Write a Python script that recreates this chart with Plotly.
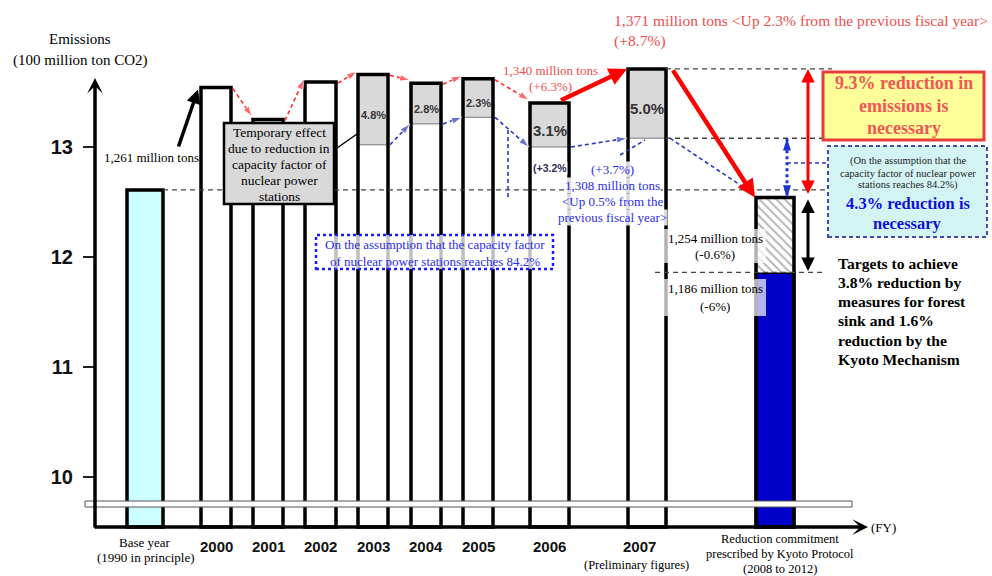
import plotly.graph_objects as go

# ---------------- data (100 million t-CO2) ----------------
categories = ["Base year", "2000", "2001", "2002", "2003", "2004", "2005", "2006", "2007", "Kyoto target"]
emissions = [12.61, 13.54, 13.25, 13.59, 13.66, 13.58, 13.62, 13.40, 13.71, 12.54]
nuclear_842 = [None, None, None, None, 13.02, 13.21, 13.27, 13.00, 13.08, None]
nuclear_effect = [None, None, None, None, "4.8%", "2.8%", "2.3%", "3.1%", "5.0%", None]
commitment_6pct = 11.86
y_ticks = [10, 11, 12, 13]
year_labels = ["2000", "2001", "2002", "2003", "2004", "2005", "2006", "2007"]

# ---------------- layout geometry (pixels) ----------------
x_pos = [145, 216, 268, 320.5, 373, 426, 478, 549.5, 647, 775]
bar_w = [36, 30, 30, 31, 30, 30, 30, 39, 38, 38]
W, H = 992, 576
PXU = 110.0      # pixels per 100 million t
Y13 = 147.0      # pixel row of the value 13


def Y(py):
    return 13 + (Y13 - py) / PXU


def PY(v):
    return Y13 - (v - 13) * PXU


BASE = Y(527)


def left(i):
    return x_pos[i] - bar_w[i] / 2


def right(i):
    return x_pos[i] + bar_w[i] / 2


SERIF = "Liberation Serif"
SANS = "Liberation Sans"
RED_T = "#f04e4e"
BLUE_T = "#2b2bef"
BLUE_L = "#2a3ac0"

fig = go.Figure()

# ---------------- bars ----------------
fills = ["#ccffff"] + ["#ffffff"] * 8
fig.add_bar(x=x_pos[:9], y=[v - BASE for v in emissions[:9]], base=BASE, width=bar_w[:9],
            marker=dict(color=fills, line=dict(width=0)), hoverinfo="skip")
idx = [i for i, v in enumerate(nuclear_842) if v is not None]
fig.add_bar(x=[x_pos[i] for i in idx], y=[emissions[i] - nuclear_842[i] for i in idx],
            base=[nuclear_842[i] for i in idx], width=[bar_w[i] for i in idx],
            marker=dict(color="#d9d9d9", line=dict(color="#7a7a7a", width=1)), hoverinfo="skip")
fig.add_bar(x=[x_pos[9]], y=[commitment_6pct - BASE], base=BASE, width=[bar_w[9]],
            marker=dict(color="#0000c8", line=dict(color="black", width=3)), hoverinfo="skip")
fig.add_bar(x=[x_pos[9]], y=[emissions[9] - commitment_6pct], base=commitment_6pct, width=[bar_w[9]],
            marker=dict(color="white", line=dict(width=0),
                        pattern=dict(shape="\\", fgcolor="#707070", bgcolor="white", size=6, solidity=0.35)),
            hoverinfo="skip")
fig.add_bar(x=x_pos, y=[v - BASE for v in emissions], base=BASE, width=bar_w,
            marker=dict(color="rgba(0,0,0,0)", line=dict(color="black", width=3.5)), hoverinfo="skip")


# ---------------- dashed reference lines ----------------
def hline(x0, x1, v, color="#444444", dash="5px,4px", width=1.4):
    fig.add_scatter(x=[x0, x1], y=[v, v], mode="lines", line=dict(color=color, dash=dash, width=width),
                    hoverinfo="skip")


hline(right(0), 828, emissions[0])
hline(right(8), 832, emissions[8])
hline(right(8), 828, nuclear_842[8])
hline(655, 822, commitment_6pct)


def dashed_arrow(x0, y0, x1, y1, color, size=11, width=1.6, dash="4px,3px"):
    fig.add_scatter(x=[x0, x1], y=[y0, y1], mode="lines+markers",
                    line=dict(color=color, width=width, dash=dash),
                    marker=dict(symbol=["circle", "arrow"], size=[0, size], color=color, angleref="previous"),
                    hoverinfo="skip")


# red: actual emissions year to year
for i in range(1, 7):
    dashed_arrow(right(i) + 2, emissions[i] - 1 / PXU, left(i + 1) - 1, emissions[i + 1] + 3 / PXU, "#ff2a2a")
# blue: nuclear 84.2% assumption
for i in range(4, 8):
    dashed_arrow(right(i) + 2, nuclear_842[i], left(i + 1) - 1, nuclear_842[i + 1], BLUE_L)
dashed_arrow(right(8) + 4, nuclear_842[8], left(9) - 3, emissions[9] + 4 / PXU, BLUE_L)

# blue dotted double arrow (4.3%)
fig.add_scatter(x=[787, 787], y=[nuclear_842[8], emissions[9]], mode="lines+markers",
                line=dict(color="#1f35d6", width=3, dash="3px,3px"),
                marker=dict(symbol="arrow", size=13, color="#1f35d6", angle=[0, 180]), hoverinfo="skip")

# ---------------- shapes ----------------
shapes = []


def rect(x0, y0, x1, y1, fill, line_color, lw, dash="solid"):
    shapes.append(dict(type="rect", xref="x", yref="y", x0=x0, x1=x1, y0=Y(y1), y1=Y(y0),
                       fillcolor=fill, line=dict(color=line_color, width=lw, dash=dash)))


def seg(x0, y0, x1, y1, color, lw, dash="solid"):
    shapes.append(dict(type="line", xref="x", yref="y", x0=x0, x1=x1, y0=Y(y0), y1=Y(y1),
                       line=dict(color=color, width=lw, dash=dash)))


rect(85, 501, 852, 507, "white", "#555555", 1)                      # axis break strip
rect(224, 123, 334, 204, "#d9d9d9", "black", 2.5)                   # temporary effect box
seg(337, 148, 357, 134, "black", 1.5)
rect(316, 235, 553, 269, "rgba(255,255,255,0.75)", "#1a1aff", 2.5, "dot")
rect(664, 229, 766, 263, "rgba(255,255,255,0.7)", "rgba(0,0,0,0)", 0)
rect(664, 279, 766, 316, "rgba(255,255,255,0.7)", "rgba(0,0,0,0)", 0)
rect(823, 72, 984, 140, "#ffff99", "#e83c3c", 3)                    # 9.3% box
rect(828, 146, 987, 237, "#d4f4f4", "#3d4db0", 2, "4px,3px")        # 4.3% box
seg(620, 155, 645, 140, BLUE_L, 1.6, "4px,3px")
seg(508, 130, 508, 200, BLUE_L, 1.6, "4px,3px")
seg(787, 163, 828, 163, BLUE_L, 1.6, "4px,3px")

# ---------------- annotations ----------------
ann = []


def txt(x, py, text, size=13, color="black", bold=False, family=SERIF, xanchor="center", bg=None):
    d = dict(x=x, y=Y(py), xref="x", yref="y", text=text, showarrow=False, xanchor=xanchor, yanchor="middle",
             font=dict(family=family, size=size, color=color, weight="bold" if bold else "normal"))
    if bg:
        d.update(bgcolor=bg, borderpad=0)
    ann.append(d)


def lines(x, py0, step, texts, **kw):
    for k, t in enumerate(texts):
        txt(x, py0 + k * step, t, **kw)


def arrow(x0, y0, x1, y1, color, width, size=0.8, head=2, both=False):
    d = dict(x=x1, y=y1, ax=x0, ay=y0, xref="x", yref="y", axref="x", ayref="y", text="", showarrow=True,
             arrowcolor=color, arrowwidth=width, arrowhead=head, arrowsize=size, standoff=0)
    if both:
        d.update(arrowside="end+start", startarrowhead=head, startarrowsize=size, startstandoff=0)
    ann.append(d)


# axes
arrow(95, Y(529), 95, Y(78), "black", 3.5, size=0.75, head=3)
arrow(93, BASE, 868, BASE, "black", 3.5, size=0.75, head=3)
txt(80, 39, "Emissions", size=15)
txt(80, 60, "(100 million ton CO2)", size=15)
txt(869, 527, "(FY)", size=13, xanchor="left")

# x labels
txt(x_pos[0], 542, "Base year", size=13)
txt(x_pos[0], 557, "(1990 in principle)", size=13)
for k, lab in enumerate(year_labels):
    i = k + 1
    xx = x_pos[i] - 8 if lab == "2007" else x_pos[i]
    txt(xx, 546, lab, size=15, bold=True, family=SANS, color="#111111")
txt(636, 565, "(Preliminary figures)", size=12.5)
lines(780, 539, 15, ["Reduction commitment", "prescribed by Kyoto Protocol", "(2008 to 2012)"], size=12.5)

# nuclear effect labels inside gray segments
for i in idx:
    mid = (PY(emissions[i]) + PY(nuclear_842[i])) / 2 + 5
    big = i >= 7
    txt(x_pos[i], mid, nuclear_effect[i], size=15 if big else 11, bold=True, family=SANS, color="#333333")

# base-year pointer
txt(151, 157, "1,261 million tons", size=13)
arrow(178, Y(148), left(1) - 3, emissions[1] - 2 / PXU, "black", 3.5, size=0.8, head=2)

# gray box text
lines(279, 132, 16, ["Temporary effect", "due to reduction in", "capacity factor of", "nuclear power", "stations"],
      size=13.5)

# blue dotted box text
lines(434.5, 244, 17, ["On the assumption that the capacity factor", "of nuclear power stations reaches 84.2%"],
      size=13, color=BLUE_T)

# red labels
txt(612, 20, "1,371 million tons &lt;Up 2.3% from the previous fiscal year&gt;", size=15.6, color=RED_T,
    xanchor="left")
txt(612, 41, "(+8.7%)", size=15.6, color=RED_T, xanchor="left")
txt(550, 70, "1,340 million tons", size=13, color=RED_T)
txt(550, 86, "(+6.3%)", size=13, color=RED_T)

# blue labels
txt(x_pos[7], 168, "(+3.2%", size=10.5, bold=True, family=SANS, color="#2e2e5c", bg="rgba(255,255,255,0.8)")
lines(612, 169, 16, ["(+3.7%)", "1,308 million tons", "&lt;Up 0.5% from the", "previous fiscal year&gt;"],
      size=13, color=BLUE_T, bg="rgba(255,255,255,0.85)")

# target labels
txt(715, 238, "1,254 million tons", size=13)
txt(715, 254, "(-0.6%)", size=13)
txt(715, 288, "1,186 million tons", size=13)
txt(715, 306, "(-6%)", size=13)

# arrows toward the target
arrow(x_pos[7] + 10, emissions[7] + 2 / PXU, left(8) - 1, emissions[8], "#ff0000", 4.5, size=0.8)
arrow(right(8) + 6, emissions[8], left(9) - 1, emissions[9], "#ff0000", 4.5, size=0.8)
arrow(808, emissions[9] + 2 / PXU, 808, emissions[8], "#ff0000", 3, size=0.9, both=True)
arrow(808, commitment_6pct, 808, emissions[9] - 2 / PXU, "black", 3, size=0.9, both=True)

# boxes text
lines(903.5, 83, 22.5, ["9.3% reduction in", "emissions is", "necessary"], size=18, bold=True, color="#f25555")
lines(907.5, 161, 12, ["(On the assumption that the", "capacity factor of nuclear power", "stations reaches 84.2%)"],
      size=10.5, color="#222222")
lines(907.5, 203, 20, ["4.3% reduction is", "necessary"], size=16.5, bold=True, color="#1010e0")
lines(836, 263, 19.3, ["Targets to achieve", "3.8% reduction by", "measures for forest", "sink and 1.6%",
                       "reduction by the", "Kyoto Mechanism"], size=15.6, bold=True, xanchor="left")

fig.update_layout(
    width=W, height=H, margin=dict(l=0, r=0, t=0, b=0),
    paper_bgcolor="white", plot_bgcolor="white", barmode="overlay", showlegend=False,
    xaxis=dict(range=[0, W], visible=False, fixedrange=True),
    yaxis=dict(range=[Y(H), Y(0)], anchor="free", position=95 / W, side="left", showline=False,
               showgrid=False, zeroline=False, tickmode="array", tickvals=y_ticks, ticks="outside",
               ticklen=12, tickwidth=1.5, tickcolor="#222222", ticklabelstandoff=6,
               tickfont=dict(family=SANS, size=20, color="#111111", weight="bold"), fixedrange=True),
    shapes=shapes, annotations=ann,
)

fig.write_html("out.html", config={"displayModeBar": False},
               post_script="document.body.style.margin='0';document.body.style.overflow='hidden';")
